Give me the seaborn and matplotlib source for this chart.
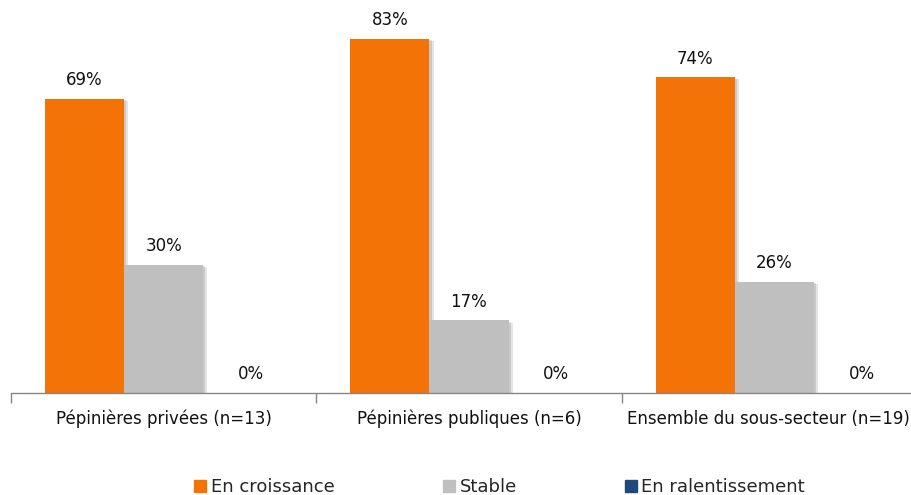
import matplotlib
matplotlib.use("Agg")
import matplotlib.pyplot as plt
import matplotlib.patheffects as pe
import matplotlib.transforms as mtransforms
from matplotlib.lines import Line2D
import seaborn as sns
import pandas as pd

categories = ["Pépinières privées (n=13)", "Pépinières publiques (n=6)", "Ensemble du sous-secteur (n=19)"]
series = ["En croissance", "Stable", "En ralentissement"]
en_croissance = [69, 83, 74]
stable = [30, 17, 26]
en_ralentissement = [0, 0, 0]
colors = ["#F37306", "#BFBFBF", "#1F497D"]

rows = []
for s, vals in zip(series, [en_croissance, stable, en_ralentissement]):
    for c, v in zip(categories, vals):
        rows.append({"cat": c, "serie": s, "val": v})
df = pd.DataFrame(rows)

sns.set_theme(style="white")
plt.rcParams['font.family'] = ['DejaVu Sans']

fig = plt.figure(figsize=(9.12, 4.95), dpi=100)
W, H = 912, 495
base_y = 393
px_per = 4.265
ymax = 92
ax = fig.add_axes([11 / W, (H - base_y) / H, (927 - 11) / W, ymax * px_per / H])

sns.barplot(data=df, x="cat", y="val", hue="serie", hue_order=series, order=categories,
            palette=colors, width=0.777, saturation=1, ax=ax, legend=False, edgecolor="none")

for cont in ax.containers:
    for bar in cont:
        bar.set_path_effects([
            pe.SimplePatchShadow(offset=(3, -1.5), shadow_rgbFace="#000000", alpha=0.10),
            pe.SimplePatchShadow(offset=(1.5, -0.8), shadow_rgbFace="#000000", alpha=0.12),
            pe.Normal()])
    labels = [f"{int(round(b.get_height()))}%" for b in cont]
    anns = ax.bar_label(cont, labels=labels, padding=7, fontsize=12, color="#111111")
    for b, a in zip(cont, anns):
        if b.get_height() == 0:
            a.xyann = (6, a.xyann[1])

ax.set_ylim(0, ymax)
ax.set_xlim(-0.5, 2.5)
ax.set_xlabel("")
ax.set_ylabel("")
ax.set_yticks([])
for sp in ["top", "right", "left"]:
    ax.spines[sp].set_visible(False)
ax.spines["bottom"].set_color("#868686")
ax.spines["bottom"].set_linewidth(1.0)

ax.set_xticks([-0.5, 0.5, 1.5, 2.5])
ax.set_xticklabels([])
ax.tick_params(axis="x", which="major", length=7, width=1, color="#868686", direction="out", bottom=True)
ax.set_xticks([0, 1, 2], minor=True)
ax.set_xticklabels(categories, minor=True, fontsize=12, color="#111111")
ax.tick_params(axis="x", which="minor", length=0, pad=12)

# keep the last category label fully inside the figure
fig.canvas.draw()
lbl = ax.get_xticklabels(minor=True)[-1]
bb = lbl.get_window_extent()
shift = min(0, (W - 2) - bb.x1)
lbl.set_transform(lbl.get_transform() + mtransforms.Affine2D().translate(shift, 0))

handles = [Line2D([0], [0], marker="s", linestyle="none", markersize=8,
                  markerfacecolor=c, markeredgecolor=c) for c in colors]
fig.legend(handles, series, loc="center", bbox_to_anchor=(500 / W, 1 - 487 / H), ncol=3,
           frameon=False, fontsize=13, handlelength=0.6, handletextpad=0.3, columnspacing=6.0)

fig.savefig("out.png", dpi=100)
